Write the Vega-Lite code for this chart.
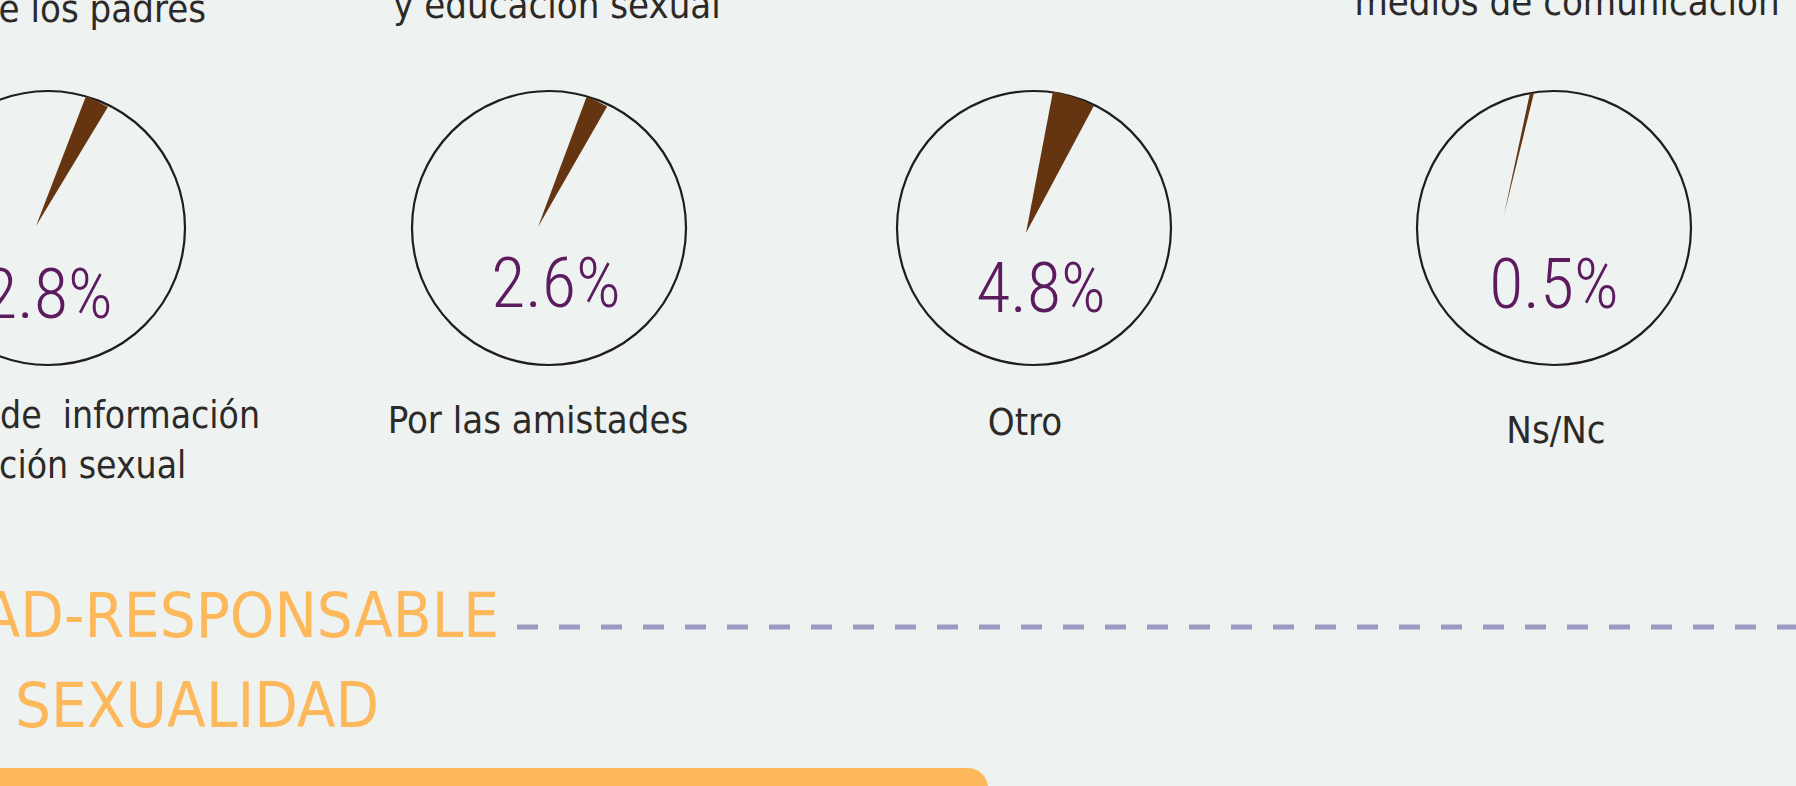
{
  "$schema": "https://vega.github.io/schema/vega-lite/v6.json",
  "width": 1796,
  "height": 786,
  "autosize": "none",
  "padding": 0,
  "background": "#eef2f1",
  "config": {"view": {"stroke": null}},
  "data": {
    "values": [
      {"opcion": "Búsqueda de\u00a0 información\neducación sexual", "pct": 0.028},
      {"opcion": "Por las amistades", "pct": 0.026},
      {"opcion": "Otro", "pct": 0.048},
      {"opcion": "Ns/Nc", "pct": 0.005}
    ]
  },
  "resolve": {"scale": {"theta": "independent"}},
  "layer": [
    {
      "data": {"values": [{"texto": "de los padres"}]},
      "mark": {"type": "text", "y": 22, "align": "right", "baseline": "alphabetic", "dx": 158, "font": "Liberation Sans Narrow, DejaVu Sans Condensed, sans-serif", "fontSize": 38, "color": "#2b2a29"},
      "encoding": {
        "x": {"datum": "Búsqueda de\u00a0 información\neducación sexual", "type": "nominal", "axis": null, "scale": {"type": "point", "domain": ["Búsqueda de\u00a0 información\neducación sexual", "Por las amistades", "Otro", "Ns/Nc"], "range": [48, 1554], "padding": 0}},
        "text": {"field": "texto"}
      }
    },
    {
      "data": {"values": [{"texto": "y educación sexual"}]},
      "mark": {"type": "text", "y": 18, "align": "center", "baseline": "alphabetic", "dx": 7, "font": "Liberation Sans Narrow, DejaVu Sans Condensed, sans-serif", "fontSize": 38, "color": "#2b2a29"},
      "encoding": {
        "x": {"datum": "Por las amistades", "type": "nominal", "axis": null},
        "text": {"field": "texto"}
      }
    },
    {
      "data": {"values": [{"texto": "medios de comunicación"}]},
      "mark": {"type": "text", "y": 15, "align": "center", "baseline": "alphabetic", "dx": 13, "font": "Liberation Sans Narrow, DejaVu Sans Condensed, sans-serif", "fontSize": 38, "color": "#2b2a29"},
      "encoding": {
        "x": {"datum": "Ns/Nc", "type": "nominal", "axis": null},
        "text": {"field": "texto"}
      }
    },
    {
      "transform": [{"filter": {"field": "opcion", "equal": "Búsqueda de\u00a0 información\neducación sexual"}}],
      "encoding": {"x": {"field": "opcion", "type": "nominal", "axis": null}},
      "layer": [
        {"mark": {"type": "point", "shape": "circle", "size": 75076, "filled": false, "stroke": "#1f1e1d", "strokeWidth": 2.2, "opacity": 1, "y": 228}},
        {"mark": {"type": "arc", "color": "#653512", "radius": 139, "y": 226, "xOffset": -12},
         "encoding": {"theta": {"field": "pct", "type": "quantitative", "scale": {"domain": [0, 1], "range": [0.3676, 6.6508]}}}},
        {"mark": {"type": "text", "y": 318, "align": "center", "baseline": "alphabetic", "font": "Noto Sans ExtraCondensed Light, Roboto Condensed Light, Roboto, sans-serif", "fontWeight": 300, "fontSize": 70, "color": "#5b1b5e"},
         "encoding": {"text": {"field": "pct", "format": ".1%"}}},
        {"mark": {"type": "text", "y": 428, "align": "center", "baseline": "alphabetic", "lineBreak": "\n", "lineHeight": 50, "xOffset": -6, "font": "Liberation Sans Narrow, DejaVu Sans Condensed, sans-serif", "fontSize": 37, "color": "#2b2a29"},
         "encoding": {"text": {"field": "opcion"}}}
      ]
    },
    {
      "transform": [{"filter": {"field": "opcion", "equal": "Por las amistades"}}],
      "encoding": {"x": {"field": "opcion", "type": "nominal", "axis": null}},
      "layer": [
        {"mark": {"type": "point", "shape": "circle", "size": 75076, "filled": false, "stroke": "#1f1e1d", "strokeWidth": 2.2, "opacity": 1, "y": 228, "xOffset": -1}},
        {"mark": {"type": "arc", "color": "#653512", "radius": 139, "y": 227, "xOffset": -12},
         "encoding": {"theta": {"field": "pct", "type": "quantitative", "scale": {"domain": [0, 1], "range": [0.3573, 6.6405]}}}},
        {"mark": {"type": "text", "y": 307, "align": "center", "baseline": "alphabetic", "xOffset": 6, "font": "Noto Sans ExtraCondensed Light, Roboto Condensed Light, Roboto, sans-serif", "fontWeight": 300, "fontSize": 70, "color": "#5b1b5e"},
         "encoding": {"text": {"field": "pct", "format": ".1%"}}},
        {"mark": {"type": "text", "y": 433, "align": "center", "baseline": "alphabetic", "xOffset": -12, "font": "Liberation Sans Narrow, DejaVu Sans Condensed, sans-serif", "fontSize": 38, "color": "#2b2a29"},
         "encoding": {"text": {"field": "opcion"}}}
      ]
    },
    {
      "transform": [{"filter": {"field": "opcion", "equal": "Otro"}}],
      "encoding": {"x": {"field": "opcion", "type": "nominal", "axis": null}},
      "layer": [
        {"mark": {"type": "point", "shape": "circle", "size": 75076, "filled": false, "stroke": "#1f1e1d", "strokeWidth": 2.2, "opacity": 1, "y": 228, "xOffset": -18}},
        {"mark": {"type": "arc", "color": "#653512", "radius": 144, "y": 233, "xOffset": -26},
         "encoding": {"theta": {"field": "pct", "type": "quantitative", "scale": {"domain": [0, 1], "range": [0.1885, 6.4717]}}}},
        {"mark": {"type": "text", "y": 312, "align": "center", "baseline": "alphabetic", "xOffset": -11, "font": "Noto Sans ExtraCondensed Light, Roboto Condensed Light, Roboto, sans-serif", "fontWeight": 300, "fontSize": 70, "color": "#5b1b5e"},
         "encoding": {"text": {"field": "pct", "format": ".1%"}}},
        {"mark": {"type": "text", "y": 435, "align": "center", "baseline": "alphabetic", "xOffset": -27, "font": "Liberation Sans Narrow, DejaVu Sans Condensed, sans-serif", "fontSize": 38, "color": "#2b2a29"},
         "encoding": {"text": {"field": "opcion"}}}
      ]
    },
    {
      "transform": [{"filter": {"field": "opcion", "equal": "Ns/Nc"}}],
      "encoding": {"x": {"field": "opcion", "type": "nominal", "axis": null}},
      "layer": [
        {"mark": {"type": "point", "shape": "circle", "size": 75076, "filled": false, "stroke": "#1f1e1d", "strokeWidth": 2.2, "opacity": 1, "y": 228}},
        {"mark": {"type": "arc", "color": "#653512", "radius": 125, "y": 215, "xOffset": -50},
         "encoding": {"theta": {"field": "pct", "type": "quantitative", "scale": {"domain": [0, 1], "range": [0.2094, 6.4926]}}}},
        {"mark": {"type": "text", "y": 308, "align": "center", "baseline": "alphabetic", "font": "Noto Sans ExtraCondensed Light, Roboto Condensed Light, Roboto, sans-serif", "fontWeight": 300, "fontSize": 70, "color": "#5b1b5e"},
         "encoding": {"text": {"field": "pct", "format": ".1%"}}},
        {"mark": {"type": "text", "y": 443, "align": "center", "baseline": "alphabetic", "xOffset": 2, "font": "Liberation Sans Narrow, DejaVu Sans Condensed, sans-serif", "fontSize": 38, "color": "#2b2a29"},
         "encoding": {"text": {"field": "opcion"}}}
      ]
    },
    {
      "data": {"values": [{"titulo": "PATERNIDAD-RESPONSABLE"}]},
      "mark": {"type": "text", "x": 499, "y": 637, "align": "right", "baseline": "alphabetic", "font": "Liberation Sans Narrow, DejaVu Sans Condensed, sans-serif", "fontSize": 63, "color": "#fdb85c"},
      "encoding": {"text": {"field": "titulo"}}
    },
    {
      "data": {"values": [{"titulo": "SEXUALIDAD"}]},
      "mark": {"type": "text", "x": 15, "y": 727, "align": "left", "baseline": "alphabetic", "font": "Liberation Sans Narrow, DejaVu Sans Condensed, sans-serif", "fontSize": 63, "color": "#fdb85c"},
      "encoding": {"text": {"field": "titulo"}}
    },
    {
      "data": {"values": [{}]},
      "mark": {"type": "rule", "strokeDash": [21, 21], "strokeWidth": 5, "strokeCap": "butt", "color": "#9a9bc3"},
      "encoding": {"x": {"value": 517}, "x2": {"value": 1800}, "y": {"value": 627}}
    },
    {
      "data": {"values": [{}]},
      "mark": {"type": "rect", "cornerRadius": 20, "color": "#fdb85c"},
      "encoding": {"x": {"value": -30}, "x2": {"value": 988}, "y": {"value": 768}, "y2": {"value": 830}}
    }
  ]
}
